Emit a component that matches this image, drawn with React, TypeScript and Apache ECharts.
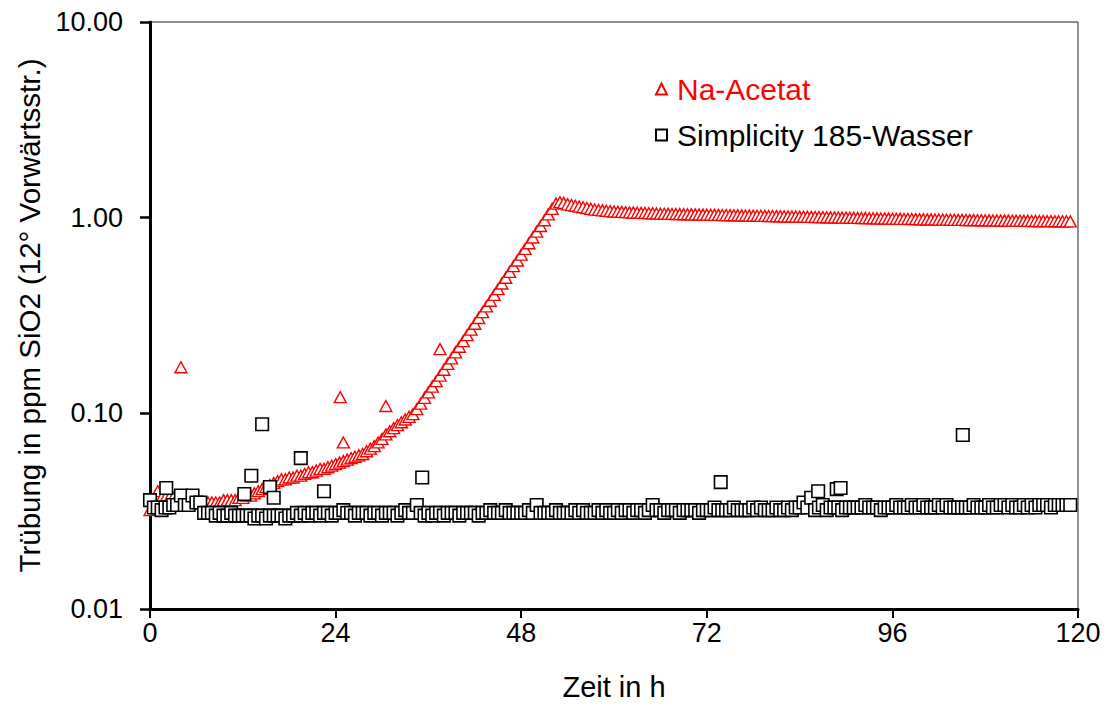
import { useEffect, useRef } from "react";
import * as echarts from "echarts";

// Sampling step of the continuous measurement (hours)
const STEP_H = 0.5;

// Na-Acetat: turbidity (ppm SiO2) every 0.5 h from t = 0 h
const naAcetat: number[] = [
  0.032, 0.036, 0.040, 0.037, 0.037, 0.037, 0.037, 0.037, 0.036, 0.036, 0.036, 0.036, 0.035, 0.035, 0.035, 0.035, 0.035, 0.035, 0.035, 0.036, 0.036, 0.036, 0.036, 0.037,
  0.037, 0.038, 0.038, 0.039, 0.040, 0.041, 0.042, 0.043, 0.044, 0.045, 0.046, 0.046, 0.047, 0.047, 0.048, 0.048, 0.049, 0.050, 0.050, 0.051, 0.052, 0.052, 0.053, 0.054,
  0.055, 0.056, 0.057, 0.058, 0.059, 0.060, 0.061, 0.062, 0.064, 0.066, 0.068, 0.071, 0.074, 0.078, 0.081, 0.084, 0.087, 0.090, 0.093, 0.096, 0.099, 0.105, 0.112, 0.120,
  0.128, 0.137, 0.146, 0.156, 0.167, 0.179, 0.191, 0.205, 0.219, 0.234, 0.251, 0.268, 0.287, 0.307, 0.329, 0.352, 0.376, 0.403, 0.431, 0.461, 0.493, 0.528, 0.565, 0.604,
  0.647, 0.692, 0.740, 0.792, 0.848, 0.907, 0.970, 1.04, 1.11, 1.18, 1.20, 1.19, 1.17, 1.16, 1.15, 1.14, 1.13, 1.12, 1.11, 1.10, 1.095, 1.09, 1.085, 1.08,
  1.075, 1.072, 1.070, 1.067, 1.064, 1.062, 1.060, 1.058, 1.056, 1.054, 1.052, 1.050, 1.048, 1.047, 1.046, 1.045, 1.044, 1.043, 1.042, 1.041, 1.040, 1.039, 1.038, 1.037,
  1.036, 1.035, 1.034, 1.033, 1.032, 1.031, 1.030, 1.029, 1.028, 1.027, 1.026, 1.025, 1.024, 1.023, 1.022, 1.021, 1.020, 1.019, 1.018, 1.017, 1.016, 1.015, 1.014, 1.013,
  1.012, 1.011, 1.010, 1.009, 1.008, 1.007, 1.006, 1.005, 1.004, 1.003, 1.002, 1.001, 1.000, 0.999, 0.998, 0.997, 0.996, 0.995, 0.994, 0.993, 0.992, 0.991, 0.990, 0.989,
  0.988, 0.987, 0.986, 0.985, 0.985, 0.984, 0.983, 0.982, 0.981, 0.980, 0.980, 0.979, 0.978, 0.977, 0.977, 0.976, 0.975, 0.974, 0.974, 0.973, 0.972, 0.972, 0.971, 0.970,
  0.970, 0.969, 0.968, 0.968, 0.967, 0.966, 0.966, 0.965, 0.965, 0.964, 0.963, 0.963, 0.962, 0.962, 0.961, 0.961, 0.960, 0.960, 0.959, 0.959, 0.958, 0.958, 0.957,
];

// Na-Acetat: isolated spikes [t (h), turbidity]
const naAcetatSpikes: [number, number][] = [
  [4.0, 0.172],
  [24.6, 0.121],
  [25.0, 0.071],
  [30.5, 0.109],
  [37.5, 0.213],
];

// Simplicity 185-Wasser: turbidity every 0.5 h from t = 0 h
const simplicity: number[] = [
  0.036, 0.033, 0.033, 0.032, 0.033, 0.033, 0.034, 0.034, 0.038, 0.034, 0.034, 0.038, 0.035, 0.035, 0.031, 0.031, 0.031, 0.030, 0.031, 0.030, 0.030, 0.031, 0.030, 0.030,
  0.030, 0.030, 0.030, 0.029, 0.030, 0.030, 0.029, 0.030, 0.030, 0.030, 0.030, 0.029, 0.030, 0.030, 0.031, 0.030, 0.031, 0.030, 0.031, 0.031, 0.030, 0.031, 0.031, 0.030,
  0.031, 0.031, 0.032, 0.031, 0.031, 0.030, 0.031, 0.031, 0.031, 0.030, 0.031, 0.031, 0.030, 0.031, 0.031, 0.031, 0.030, 0.031, 0.032, 0.031, 0.031, 0.034, 0.031, 0.030,
  0.031, 0.030, 0.031, 0.031, 0.030, 0.031, 0.031, 0.031, 0.030, 0.031, 0.031, 0.031, 0.031, 0.030, 0.031, 0.031, 0.032, 0.031, 0.031, 0.031, 0.032, 0.031, 0.031, 0.031,
  0.031, 0.031, 0.032, 0.031, 0.034, 0.031, 0.031, 0.031, 0.031, 0.032, 0.031, 0.031, 0.031, 0.031, 0.032, 0.031, 0.032, 0.031, 0.031, 0.031, 0.032, 0.031, 0.032, 0.031,
  0.031, 0.032, 0.031, 0.032, 0.032, 0.031, 0.032, 0.032, 0.031, 0.032, 0.034, 0.032, 0.032, 0.031, 0.032, 0.032, 0.032, 0.031, 0.032, 0.032, 0.032, 0.032, 0.031, 0.032,
  0.032, 0.032, 0.033, 0.032, 0.032, 0.032, 0.032, 0.033, 0.032, 0.032, 0.032, 0.032, 0.033, 0.032, 0.033, 0.032, 0.032, 0.032, 0.033, 0.032, 0.032, 0.033, 0.032, 0.033,
  0.033, 0.035, 0.033, 0.037, 0.032, 0.033, 0.034, 0.032, 0.033, 0.033, 0.033, 0.032, 0.033, 0.033, 0.033, 0.033, 0.033, 0.034, 0.033, 0.033, 0.033, 0.032, 0.033, 0.033,
  0.033, 0.034, 0.033, 0.033, 0.033, 0.034, 0.033, 0.033, 0.034, 0.033, 0.033, 0.033, 0.034, 0.033, 0.034, 0.033, 0.033, 0.033, 0.033, 0.033, 0.033, 0.034, 0.033, 0.033,
  0.033, 0.034, 0.033, 0.033, 0.034, 0.034, 0.033, 0.034, 0.033, 0.033, 0.034, 0.033, 0.034, 0.033, 0.034, 0.034, 0.034, 0.033, 0.034, 0.034, 0.034, 0.034, 0.034,
];

// Simplicity 185-Wasser: isolated spikes [t (h), turbidity]
const simplicitySpikes: [number, number][] = [
  [2.1, 0.0415],
  [12.2, 0.0387],
  [13.1, 0.048],
  [14.5, 0.088],
  [15.5, 0.042],
  [16.0, 0.037],
  [19.5, 0.059],
  [22.5, 0.040],
  [35.2, 0.047],
  [73.8, 0.0445],
  [86.4, 0.040],
  [88.8, 0.041],
  [89.3, 0.0415],
  [105.1, 0.0775],
];

const SERIES_NAMES = ["Na-Acetat", "Simplicity 185-Wasser"];
const X_MIN = 0;
const X_MAX = 120;
const X_STEP = 24;
const Y_MIN = 0.01;
const Y_MAX = 10;

function buildPoints(values: number[], spikes: [number, number][]): [number, number][] {
  const pts: [number, number][] = values.map((v, i) => [i * STEP_H, v]);
  return pts.concat(spikes).sort((a, b) => a[0] - b[0]);
}

const FONT = "'Liberation Sans', Arial, Helvetica, sans-serif";

export default function App() {
  const ref = useRef<HTMLDivElement>(null);

  useEffect(() => {
    if (!ref.current) return;
    const chart = echarts.init(ref.current, undefined, { renderer: "svg" });
    chart.setOption({
      animation: false,
      backgroundColor: "#ffffff",
      textStyle: { fontFamily: FONT },
      grid: {
        left: 150,
        top: 22,
        width: 928,
        height: 587,
        show: true,
        borderColor: "#222",
        borderWidth: 1,
        backgroundColor: "transparent",
      },
      legend: {
        orient: "vertical",
        left: 650,
        top: 67,
        itemWidth: 11,
        itemHeight: 11,
        itemGap: 12,
        selectedMode: false,
        textStyle: { fontFamily: FONT, fontSize: 30, lineHeight: 34, padding: [0, 0, 0, 5] },
        data: [
          { name: SERIES_NAMES[0], icon: "triangle", textStyle: { color: "#ff0000" } },
          { name: SERIES_NAMES[1], icon: "rect", textStyle: { color: "#000000" } },
        ],
      },
      xAxis: {
        type: "value",
        min: X_MIN,
        max: X_MAX,
        interval: X_STEP,
        name: "Zeit in h",
        nameLocation: "middle",
        nameGap: 63,
        nameTextStyle: { fontFamily: FONT, fontSize: 29, color: "#000" },
        axisLine: { show: true, onZero: false, lineStyle: { color: "#000", width: 3 } },
        axisTick: { show: true, inside: false, length: 9, lineStyle: { color: "#000", width: 2 } },
        axisLabel: { margin: 10, fontFamily: FONT, fontSize: 27, color: "#000" },
        splitLine: { show: false },
      },
      yAxis: {
        type: "log",
        logBase: 10,
        min: Y_MIN,
        max: Y_MAX,
        name: "Trübung in ppm SiO2 (12° Vorwärtsstr.)",
        nameLocation: "middle",
        nameRotate: 90,
        nameGap: 104,
        nameTextStyle: { fontFamily: FONT, fontSize: 29.5, color: "#000" },
        axisLine: { show: true, onZero: false, lineStyle: { color: "#000", width: 3 } },
        axisTick: { show: true, inside: false, length: 10, lineStyle: { color: "#000", width: 2.5 } },
        axisLabel: {
          margin: 27,
          fontFamily: FONT,
          fontSize: 27,
          color: "#000",
          formatter: (v: number) => v.toFixed(2),
        },
        splitLine: { show: false },
        minorTick: { show: false },
      },
      series: [
        {
          name: SERIES_NAMES[0],
          type: "scatter",
          symbol: "triangle",
          symbolSize: [12, 11],
          itemStyle: { color: "#ffffff", borderColor: "#ff0000", borderWidth: 1.4, opacity: 1 },
          emphasis: { disabled: true },
          data: buildPoints(naAcetat, naAcetatSpikes),
          z: 2,
        },
        {
          name: SERIES_NAMES[1],
          type: "scatter",
          symbol: "rect",
          symbolSize: 12.5,
          itemStyle: { color: "#ffffff", borderColor: "#000000", borderWidth: 1.6, opacity: 1 },
          emphasis: { disabled: true },
          data: buildPoints(simplicity, simplicitySpikes),
          z: 3,
        },
      ],
    });
    return () => chart.dispose();
  }, []);

  return (
    <div
      ref={ref}
      style={{ position: "fixed", left: 0, top: 0, width: 1111, height: 710, background: "#fff" }}
    />
  );
}
